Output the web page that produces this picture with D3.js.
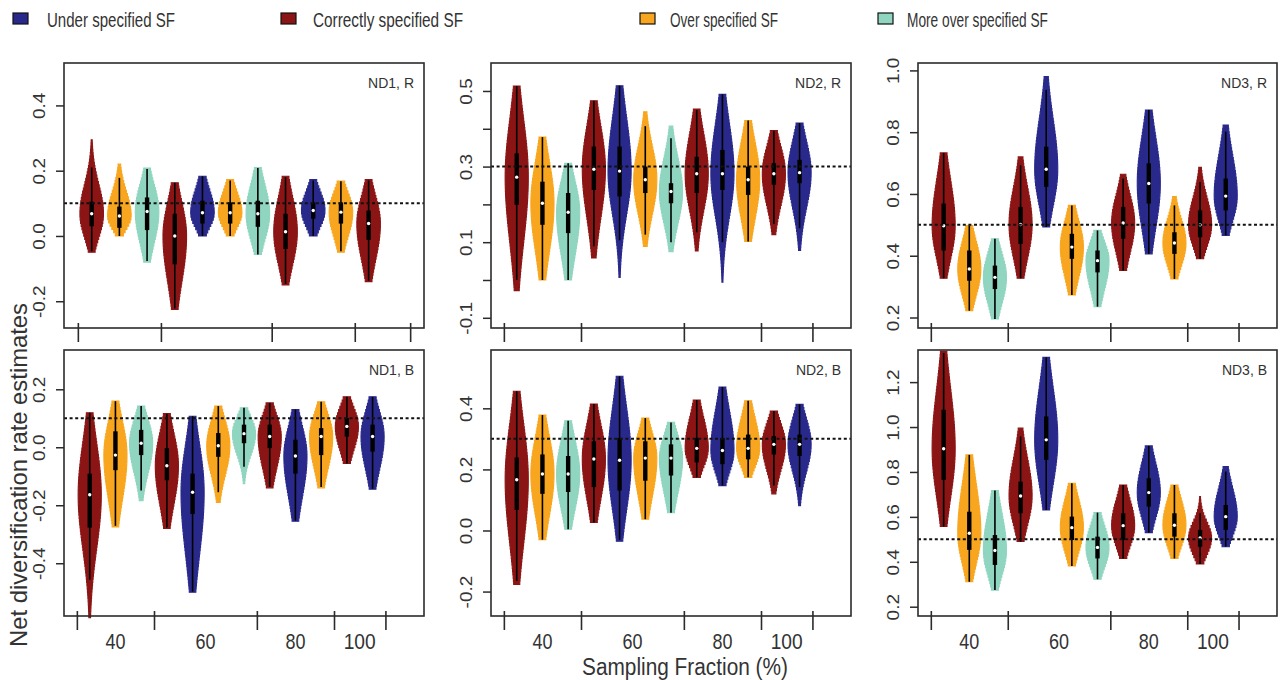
<!DOCTYPE html>
<html>
<head>
<meta charset="utf-8">
<script src="https://cdn.jsdelivr.net/npm/d3@7"></script>
<style>
  html, body { margin: 0; padding: 0; background: #fff; }
  svg { display: block; font-family: "Liberation Sans", Arial, sans-serif; }
</style>
</head>
<body>
<script>
// ---------------- DATA ----------------
// x-axis categories (sampling fraction, %) and the specification of each of the 12 violin slots
const categories = ["40", "60", "80", "100"];
const slotSpec = ["Correct", "Over", "More over", "Correct", "Under", "Over", "More over", "Correct", "Under", "Over", "Correct", "Under"];
const legendLabels = ["Under specified SF", "Correctly specified SF", "Over specified SF", "More over specified SF"];
const specNames = ["Under", "Correct", "Over", "More over"];
const panelNames = ["ND1, R", "ND2, R", "ND3, R", "ND1, B", "ND2, B", "ND3, B"];
const trueValues = [0.1, 0.3, 0.5, 0.1, 0.3, 0.5];

// each violin: [min, lower whisker, Q1, median, Q3, upper whisker, max]
const ND1_R = [
  [-0.050, -0.047, 0.030, 0.068, 0.105, 0.210, 0.295],
  [0.000, 0.000, 0.025, 0.061, 0.090, 0.178, 0.220],
  [-0.080, -0.077, 0.018, 0.075, 0.118, 0.205, 0.208],
  [-0.225, -0.222, -0.087, 0.000, 0.068, 0.163, 0.163],
  [0.000, 0.000, 0.038, 0.071, 0.108, 0.183, 0.183],
  [0.000, 0.000, 0.038, 0.071, 0.103, 0.170, 0.173],
  [-0.057, -0.057, 0.028, 0.068, 0.108, 0.208, 0.210],
  [-0.150, -0.147, -0.040, 0.013, 0.068, 0.180, 0.183],
  [0.000, 0.000, 0.053, 0.078, 0.103, 0.170, 0.173],
  [-0.050, -0.047, 0.038, 0.073, 0.103, 0.168, 0.168],
  [-0.140, -0.137, -0.012, 0.038, 0.078, 0.170, 0.173],
  null
];
const ND2_R = [
  [-0.028, 0.000, 0.199, 0.272, 0.335, 0.513, 0.513],
  [0.000, 0.000, 0.146, 0.203, 0.260, 0.378, 0.378],
  [0.000, 0.000, 0.124, 0.179, 0.230, 0.309, 0.309],
  [0.058, 0.089, 0.238, 0.293, 0.353, 0.474, 0.474],
  [0.007, 0.105, 0.221, 0.288, 0.353, 0.514, 0.514],
  [0.089, 0.120, 0.230, 0.265, 0.300, 0.407, 0.445],
  [0.075, 0.100, 0.203, 0.234, 0.256, 0.375, 0.407],
  [0.077, 0.126, 0.230, 0.281, 0.326, 0.450, 0.452],
  [-0.006, 0.100, 0.238, 0.281, 0.344, 0.491, 0.491],
  [0.102, 0.102, 0.225, 0.265, 0.300, 0.422, 0.422],
  [0.120, 0.148, 0.252, 0.281, 0.309, 0.395, 0.395],
  [0.078, 0.137, 0.256, 0.284, 0.318, 0.415, 0.415]
];
const ND3_R = [
  [0.327, 0.327, 0.417, 0.497, 0.569, 0.733, 0.733],
  [0.222, 0.222, 0.319, 0.357, 0.417, 0.498, 0.498],
  [0.195, 0.195, 0.292, 0.330, 0.368, 0.455, 0.455],
  [0.327, 0.327, 0.438, 0.501, 0.558, 0.693, 0.720],
  [0.493, 0.493, 0.623, 0.680, 0.753, 0.937, 0.980],
  [0.273, 0.273, 0.390, 0.428, 0.471, 0.563, 0.563],
  [0.235, 0.235, 0.346, 0.384, 0.417, 0.482, 0.482],
  [0.352, 0.352, 0.455, 0.506, 0.558, 0.650, 0.664],
  [0.406, 0.406, 0.569, 0.634, 0.699, 0.872, 0.872],
  [0.325, 0.325, 0.406, 0.441, 0.476, 0.563, 0.592],
  [0.390, 0.390, 0.460, 0.500, 0.547, 0.639, 0.686],
  [0.466, 0.466, 0.547, 0.593, 0.650, 0.802, 0.823]
];
const ND1_B = [
  [-0.588, -0.457, -0.277, -0.164, -0.091, 0.119, 0.119],
  [-0.275, -0.271, -0.079, -0.027, 0.055, 0.159, 0.159],
  [-0.184, -0.149, -0.027, 0.014, 0.060, 0.142, 0.142],
  [-0.280, -0.277, -0.114, -0.064, -0.003, 0.116, 0.116],
  [-0.500, -0.498, -0.230, -0.155, -0.091, 0.107, 0.107],
  [-0.190, -0.155, -0.033, 0.005, 0.049, 0.142, 0.142],
  [-0.126, -0.067, 0.014, 0.047, 0.078, 0.136, 0.136],
  [-0.140, -0.137, -0.003, 0.037, 0.078, 0.153, 0.153],
  [-0.255, -0.253, -0.091, -0.030, 0.026, 0.130, 0.130],
  [-0.140, -0.137, -0.027, 0.037, 0.066, 0.157, 0.157],
  [-0.056, -0.056, 0.037, 0.072, 0.101, 0.174, 0.174],
  [-0.145, -0.143, -0.015, 0.037, 0.078, 0.174, 0.174]
];
const ND2_B = [
  [-0.177, -0.165, 0.067, 0.166, 0.239, 0.456, 0.456],
  [-0.030, -0.030, 0.120, 0.185, 0.249, 0.378, 0.378],
  [0.004, 0.004, 0.126, 0.185, 0.244, 0.359, 0.359],
  [0.026, 0.026, 0.142, 0.234, 0.292, 0.414, 0.414],
  [-0.035, -0.030, 0.131, 0.230, 0.303, 0.505, 0.505],
  [0.037, 0.037, 0.163, 0.237, 0.292, 0.368, 0.368],
  [0.058, 0.058, 0.180, 0.237, 0.282, 0.354, 0.354],
  [0.174, 0.174, 0.223, 0.269, 0.303, 0.427, 0.427],
  [0.147, 0.147, 0.217, 0.262, 0.303, 0.470, 0.470],
  [0.174, 0.174, 0.233, 0.269, 0.314, 0.425, 0.425],
  [0.120, 0.147, 0.249, 0.282, 0.309, 0.391, 0.391],
  [0.081, 0.142, 0.244, 0.282, 0.314, 0.413, 0.413]
];
const ND3_B = [
  [0.557, 0.557, 0.765, 0.903, 1.077, 1.330, 1.337],
  [0.311, 0.311, 0.453, 0.527, 0.623, 0.876, 0.876],
  [0.274, 0.274, 0.386, 0.450, 0.519, 0.717, 0.717],
  [0.490, 0.490, 0.616, 0.693, 0.757, 0.958, 0.995],
  [0.631, 0.631, 0.854, 0.943, 1.047, 1.310, 1.310],
  [0.381, 0.381, 0.497, 0.552, 0.601, 0.750, 0.750],
  [0.322, 0.322, 0.415, 0.464, 0.512, 0.619, 0.619],
  [0.415, 0.415, 0.497, 0.561, 0.616, 0.742, 0.742],
  [0.530, 0.530, 0.646, 0.708, 0.772, 0.916, 0.916],
  [0.415, 0.415, 0.512, 0.563, 0.616, 0.742, 0.742],
  [0.390, 0.390, 0.467, 0.506, 0.542, 0.616, 0.690],
  [0.467, 0.467, 0.542, 0.601, 0.653, 0.802, 0.824]
];

// y tick values and which of them carry labels
const yTicksND1R = [-0.2, 0.0, 0.2, 0.4];
const yTicksND2R = [-0.1, 0.0, 0.1, 0.2, 0.3, 0.4, 0.5];
const yLabelsND2R = [-0.1, 0.1, 0.3, 0.5];
const yTicksND3R = [0.2, 0.4, 0.6, 0.8, 1.0];
const yTicksND1B = [-0.4, -0.2, 0.0, 0.2];
const yTicksND2B = [-0.2, 0.0, 0.2, 0.4];
const yTicksND3B = [0.2, 0.4, 0.6, 0.8, 1.0, 1.2];

// group boundaries and group centres on the slot axis
const groupBreaks = [0.5, 3.5, 7.5, 10.5, 12.5];
const groupCentres = [2, 5.5, 9, 11.5];

// ---------------- LAYOUT ----------------
const colors = d3.scaleOrdinal().domain(specNames).range(["#29298c", "#8b1515", "#f8a61f", "#8fd5bf"]);
const colL = [64, 491, 918], colR = [424, 851, 1277];
const rowT = [63, 350], rowB = [328, 616];

const panels = [
  { data: ND1_R, col: 0, row: 0, yDom: [-0.282, 0.530], xMax: 13, ticks: yTicksND1R, labels: yTicksND1R },
  { data: ND2_R, col: 1, row: 0, yDom: [-0.127, 0.574], xMax: 14, ticks: yTicksND2R, labels: yLabelsND2R },
  { data: ND3_R, col: 2, row: 0, yDom: [0.166, 1.024], xMax: 14, ticks: yTicksND3R, labels: yTicksND3R },
  { data: ND1_B, col: 0, row: 1, yDom: [-0.582, 0.3355], xMax: 14, ticks: yTicksND1B, labels: yTicksND1B },
  { data: ND2_B, col: 1, row: 1, yDom: [-0.280, 0.591], xMax: 14, ticks: yTicksND2B, labels: yTicksND2B },
  { data: ND3_B, col: 2, row: 1, yDom: [0.1586, 1.343], xMax: 14, ticks: yTicksND3B, labels: yTicksND3B }
];

const svg = d3.select("body").append("svg").attr("width", 1280).attr("height", 680);
svg.append("rect").attr("width", 1280).attr("height", 680).attr("fill", "#fff");

const ink = "#2b2b2b";

panels.forEach((p, pi) => {
  const x0 = colL[p.col], x1 = colR[p.col], y0 = rowT[p.row], y1 = rowB[p.row];
  const x = d3.scaleLinear().domain([0, p.xMax]).range([x0, x1]);
  const y = d3.scaleLinear().domain(p.yDom).range([y1, y0]);
  const g = svg.append("g");
  const unit = x(1) - x(0);
  const hw = Math.min(0.45 * unit, 11.8);

  // violins
  p.data.forEach((s, i) => {
    if (!s) return;
    const [mn, wlo, q1, med, q3, whi, mx] = s;
    const cx = x(i + 1);
    const col = colors(slotSpec[i]);
    const k = 1.6;
    const sUp = Math.max((whi - med) / k, 1e-4);
    const sLo = Math.max((med - wlo) / k, 1e-4);
    const pxLen = Math.abs(y(mn) - y(mx));
    const n = Math.max(4, Math.round(pxLen / 3.2));
    const pts = d3.range(n + 1).map(j => {
      const v = mn + (mx - mn) * j / n;
      const z = v >= med ? (v - med) / sUp : (med - v) / sLo;
      return { v, w: Math.exp(-0.5 * z * z) };
    });
    const area = d3.area()
      .y(d => y(d.v))
      .x0(d => cx - hw * d.w)
      .x1(d => cx + hw * d.w)
      .curve(d3.curveStep);
    g.append("path").attr("d", area(pts))
      .attr("fill", col).attr("stroke", col).attr("stroke-width", 1.1);
    // whisker
    g.append("line").attr("x1", cx).attr("x2", cx).attr("y1", y(wlo)).attr("y2", y(whi))
      .attr("stroke", "#000").attr("stroke-width", 1.6);
    // box
    g.append("line").attr("x1", cx).attr("x2", cx).attr("y1", y(q1)).attr("y2", y(q3))
      .attr("stroke", "#000").attr("stroke-width", 4.4);
    // median
    g.append("circle").attr("cx", cx).attr("cy", y(med)).attr("r", 1.7).attr("fill", "#fff");
  });

  // dotted reference line
  g.append("line").attr("x1", x0).attr("x2", x1)
    .attr("y1", y(trueValues[pi])).attr("y2", y(trueValues[pi]))
    .attr("stroke", "#111").attr("stroke-width", 2).attr("stroke-dasharray", "3,2.6");

  // box frame
  g.append("rect").attr("x", x0).attr("y", y0).attr("width", x1 - x0).attr("height", y1 - y0)
    .attr("fill", "none").attr("stroke", ink).attr("stroke-width", 1.6);

  // y axis
  const fmt = v => (Math.abs(v) < 1e-9 ? 0 : v).toFixed(1);
  const yAxis = d3.axisLeft(y).tickValues(p.ticks).tickSize(8).tickPadding(0)
    .tickFormat(v => p.labels.some(l => Math.abs(l - v) < 1e-9) ? fmt(v) : "");
  const ya = g.append("g").attr("transform", `translate(${x0},0)`).call(yAxis);
  ya.select(".domain").remove();
  ya.selectAll(".tick line").attr("stroke", ink).attr("stroke-width", 1.5);
  ya.selectAll(".tick text")
    .attr("x", null).attr("dy", null)
    .attr("transform", "translate(-19,0) scale(0.9,1) rotate(-90)")
    .attr("text-anchor", "middle")
    .attr("font-size", 19).attr("fill", "#333")
    .attr("font-family", "Liberation Sans, Arial, sans-serif");

  // x axis tick marks (group boundaries)
  const xAxis = d3.axisBottom(x).tickValues(groupBreaks).tickSize(19).tickFormat("");
  const xa = g.append("g").attr("transform", `translate(0,${y1 - 5})`).call(xAxis);
  xa.select(".domain").remove();
  xa.selectAll(".tick line").attr("stroke", ink).attr("stroke-width", 1.6);

  // x tick labels (bottom row only)
  if (p.row === 1) {
    g.selectAll(".xlab").data(categories).join("text")
      .attr("x", (d, i) => x(groupCentres[i]))
      .attr("y", 649)
      .attr("text-anchor", "middle")
      .attr("font-size", 22).attr("fill", "#333")
      .attr("textLength", d => d.length === 3 ? 32 : 20)
      .attr("lengthAdjust", "spacingAndGlyphs")
      .text(d => d);
  }

  // panel label
  g.append("text").attr("x", x1 - 10).attr("y", y0 + 25)
    .attr("text-anchor", "end").attr("font-size", 14).attr("fill", "#333")
    .text(panelNames[pi]);
});

// legend
const legendPos = [
  { sq: 13, tx: 47, len: 128 },
  { sq: 281, tx: 313, len: 150 },
  { sq: 640, tx: 670, len: 108 },
  { sq: 878, tx: 907, len: 141 }
];
legendLabels.forEach((lab, i) => {
  const lp = legendPos[i];
  svg.append("rect").attr("x", lp.sq).attr("y", 13).attr("width", 15).attr("height", 11)
    .attr("fill", colors(specNames[i])).attr("stroke", "#111").attr("stroke-width", 1.2);
  svg.append("text").attr("x", lp.tx).attr("y", 27)
    .attr("font-size", 19.5).attr("fill", "#333")
    .attr("textLength", lp.len).attr("lengthAdjust", "spacingAndGlyphs")
    .text(lab);
});

// axis titles
svg.append("text").attr("x", 685).attr("y", 675).attr("text-anchor", "middle")
  .attr("font-size", 23.5).attr("fill", "#333")
  .attr("textLength", 206).attr("lengthAdjust", "spacingAndGlyphs")
  .text("Sampling Fraction (%)");

svg.append("text").attr("transform", "translate(27,475) rotate(-90)")
  .attr("text-anchor", "middle")
  .attr("font-size", 24).attr("fill", "#333")
  .attr("textLength", 344).attr("lengthAdjust", "spacingAndGlyphs")
  .text("Net diversification rate estimates");
</script>
</body>
</html>
